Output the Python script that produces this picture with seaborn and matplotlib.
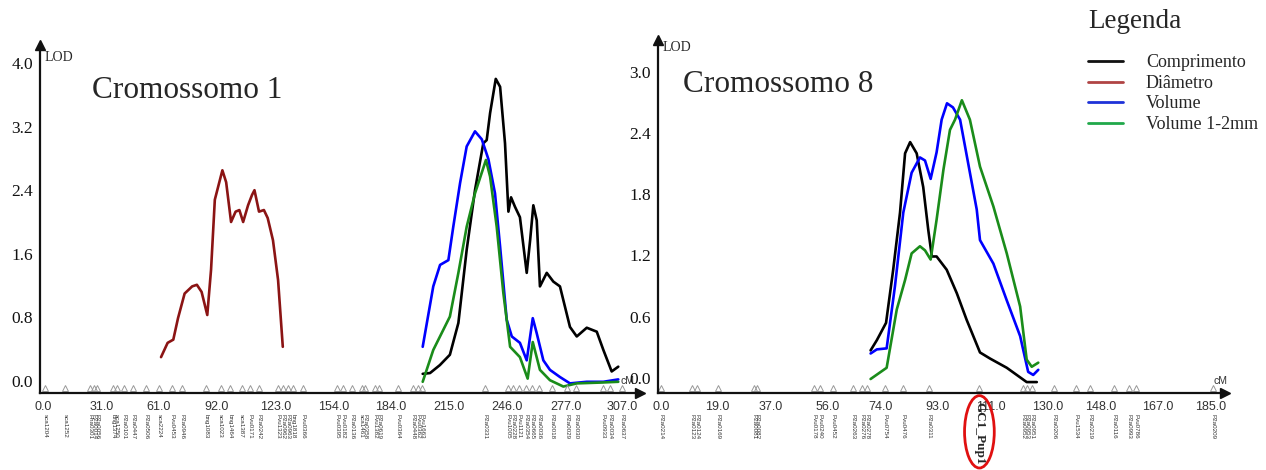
import numpy as np
import pandas as pd
import matplotlib
matplotlib.use("Agg")
import matplotlib.pyplot as plt
from matplotlib.lines import Line2D
from matplotlib.patches import Ellipse
import seaborn as sns

# ---- data: chromosome 1 (cM, LOD) ----
c1_comp_cm = [201.1, 205, 210.2, 215.5, 220, 224.4, 228.8, 233.2, 235, 236.8, 239.8, 242.1, 244.7, 246.5,
              247.9, 250, 252.6, 256.2, 258, 259.7, 261.5, 263.2, 266.8, 270.3, 273.8, 279.1, 282.7, 288,
              293.3, 296.8, 301.2, 304.7]
c1_comp_lod = [0.09, 0.10, 0.20, 0.33, 0.73, 1.65, 2.40, 2.99, 3.03, 3.37, 3.80, 3.70, 2.99, 2.13,
               2.31, 2.19, 2.06, 1.36, 1.77, 2.21, 2.02, 1.19, 1.36, 1.25, 1.19, 0.68, 0.56, 0.67,
               0.62, 0.39, 0.12, 0.18]
c1_diam_cm = [62.5, 66, 69, 71.5, 75, 79, 81.5, 84, 87, 89, 91, 95, 97, 99.6, 102, 104, 106, 108.6,
              110.7, 112, 114.4, 117, 119, 121.8, 124.5, 127]
c1_diam_lod = [0.30, 0.48, 0.52, 0.79, 1.10, 1.19, 1.21, 1.12, 0.83, 1.40, 2.28, 2.65, 2.50, 2.00,
               2.13, 2.15, 2.00, 2.21, 2.34, 2.40, 2.13, 2.15, 2.05, 1.77, 1.27, 0.43]
c1_vol_cm = [201.1, 206.7, 210.3, 214.7, 217.3, 220.9, 224.4, 228.8, 232.4, 235.9, 239.4, 242.1, 245.6,
             248.3, 252.6, 256.2, 259.4, 261.5, 265, 268.5, 273.8, 279.1, 288, 296.8, 304.7]
c1_vol_lod = [0.43, 1.19, 1.46, 1.52, 1.94, 2.49, 2.95, 3.14, 3.04, 2.79, 2.36, 1.69, 0.77,
              0.56, 0.48, 0.26, 0.79, 0.60, 0.26, 0.14, 0.05, -0.03, -0.01, -0.01, 0.02]
c1_vol12_cm = [201.1, 206.7, 215.5, 220, 224.4, 228.8, 234.6, 236.8, 240.3, 243.8, 247.4, 252.6, 256.7,
               259.4, 263.2, 268.5, 275.6, 282.7, 295, 304.7]
c1_vol12_lod = [-0.01, 0.39, 0.81, 1.36, 1.94, 2.36, 2.78, 2.57, 1.94, 1.11, 0.43, 0.30, 0.03,
                0.49, 0.14, 0.01, -0.07, -0.03, -0.02, -0.01]

# ---- data: chromosome 8 ----
c8_comp_cm = [70.5, 72.6, 75.7, 78.1, 80.4, 82.1, 83.8, 86, 88.2, 89.9, 91.1, 92.7, 96.1, 99.5, 102.8,
              107.3, 110.7, 116.3, 123, 126.4]
c8_comp_lod = [0.27, 0.37, 0.54, 1.06, 1.62, 2.20, 2.31, 2.20, 1.87, 1.45, 1.19, 1.19, 1.06, 0.83, 0.57,
               0.25, 0.19, 0.10, -0.04, -0.04]
c8_vol_cm = [70.5, 72.6, 75.9, 78.7, 81.5, 84.3, 87.1, 88.8, 90.7, 92.7, 94.4, 96.2, 98.2, 100.6, 106.2,
             107.3, 111.8, 116.3, 120.8, 123.5, 125.2, 126.9]
c8_vol_lod = [0.24, 0.28, 0.29, 0.90, 1.62, 2.01, 2.16, 2.13, 1.95, 2.21, 2.53, 2.69, 2.65, 2.53, 1.65,
              1.35, 1.12, 0.76, 0.41, 0.06, 0.03, 0.08]
c8_vol12_cm = [70.5, 75.9, 79.3, 82.1, 84.3, 87.1, 88.8, 90.7, 92.7, 95, 97.2, 98.9, 101.2, 103.9, 107.3,
               111.8, 116.3, 120.8, 123, 124.7, 126.9]
c8_vol12_lod = [-0.01, 0.10, 0.67, 0.96, 1.22, 1.29, 1.25, 1.16, 1.55, 2.04, 2.43, 2.53, 2.72, 2.53, 2.07,
                1.68, 1.22, 0.70, 0.18, 0.11, 0.15]

# ---- axis ticks ----
c1_xticks = [0, 31, 61, 92, 123, 154, 184, 215, 246, 277, 307]
c1_yticks = [0.0, 0.8, 1.6, 2.4, 3.2, 4.0]
c8_xticks = [0, 19, 37, 56, 74, 93, 111, 130, 148, 167, 185]
c8_yticks = [0.0, 0.6, 1.2, 1.8, 2.4, 3.0]

# ---- markers along the linkage maps ----
c1_markers_cm = [1, 11.6, 24.9, 27, 28.8, 37, 39, 42.9, 47.5, 54.6, 61.6, 68.2, 73.5, 86.3, 94.1, 99,
                 105.2, 109.6, 114.6, 124.6, 126.9, 129.9, 132.5, 137.8, 155.6, 159, 163.5, 168.8,
                 170.6, 175.8, 178.1, 188.2, 196.1, 198.7, 200.5, 234.1, 246.5, 249.1, 252.3, 255.8,
                 258.8, 262.9, 269.4, 277.4, 282.3, 296.4, 300.3, 306.5]
c1_markers = ["sca1204", "sca1252", "Pha0301", "P2a0014", "P2a0056", "bng1374", "sca1250", "P2a0101",
              "P2a0447", "P2a0506", "sca2224", "Pvu0453", "P2a0946", "bng1083", "sca1023", "bng1464",
              "sca1387", "Pvu0171", "P2a0242", "Pvu1323", "P2a0962", "P2a0963", "bng1818", "Pvu0366",
              "Pvu0395", "Pvu0182", "P2a0136", "sca1461", "P2a0358", "Pvu1382", "P2a0619", "Pvu0364",
              "P2a0448", "Pvu0362", "Pvu1663", "P2a0331", "Pvu1005", "P2a0228", "Pvu1121", "P2a0354",
              "P2a0665", "P2a0036", "P2a0018", "P2a0029", "P2a0030", "Pvu0933", "P2a0034", "P2a0637"]
c8_markers_cm = [0, 10.3, 12.2, 19.3, 31.3, 32.4, 51.5, 53.5, 58, 64.7, 67.5, 69.4, 75.3, 81.5, 90.3,
                 107.1, 121.9, 123.2, 124.7, 132.2, 139.6, 144.3, 152.4, 157.5, 159.8, 185.8]
c8_markers = ["P2a0214", "P2a0123", "P2a0124", "P2a0169", "P2a0081", "P2a0082", "Pvu0178", "Pvu0240",
              "Pvu0452", "P2a0263", "P2a0276", "P2a0278", "Pvu0754", "Pvu0476", "P2a0311", "GC1_Pup1",
              "P2a0952", "P2a0953", "P2a0951", "P2a0206", "Pvu1534", "P2a0219", "P2a0116", "P2a0993",
              "Pvu0786", "P2a0209"]

series_names = ["Comprimento", "Diâmetro", "Volume", "Volume 1-2mm"]
line_colors = {"Comprimento": "#000000", "Diâmetro": "#8B1414", "Volume": "#0000FF", "Volume 1-2mm": "#1A8C1A"}
legend_colors = ["#111111", "#B04444", "#1E32D8", "#20A84A"]


def long_frame(parts):
    frames = []
    for name, cm, lod in parts:
        frames.append(pd.DataFrame({"cM": cm, "LOD": lod, "trait": name}))
    return pd.concat(frames, ignore_index=True)


c1 = long_frame([("Comprimento", c1_comp_cm, c1_comp_lod), ("Diâmetro", c1_diam_cm, c1_diam_lod),
                 ("Volume", c1_vol_cm, c1_vol_lod), ("Volume 1-2mm", c1_vol12_cm, c1_vol12_lod)])
c8 = long_frame([("Comprimento", c8_comp_cm, c8_comp_lod), ("Volume", c8_vol_cm, c8_vol_lod),
                 ("Volume 1-2mm", c8_vol12_cm, c8_vol12_lod)])

sns.set_theme(style="white")
plt.rcParams["font.family"] = ["Liberation Serif", "DejaVu Serif"]

fig = plt.figure(figsize=(12.66, 4.70), dpi=100)
ax1 = fig.add_axes([40 / 1266, 77 / 470, 600 / 1266, 348 / 470])
ax2 = fig.add_axes([658 / 1266, 77 / 470, 567 / 1266, 353 / 470])

panels = [
    (ax1, c1, c1_xticks, c1_yticks, (-1.6, 316.2), (-0.151, 4.226), c1_markers_cm, c1_markers, "Cromossomo 1", 0.087, 0.87, 0.965, 0.967),
    (ax2, c8, c8_xticks, c8_yticks, (-1.0, 189.7), (-0.147, 3.31), c8_markers_cm, c8_markers, "Cromossomo 8", 0.044, 0.875, 0.98, 0.979),
]

for ax, df, xt, yt, xl, yl, mk_cm, mk_names, title, tx, ty, lody, cmx in panels:
    sns.lineplot(data=df, x="cM", y="LOD", hue="trait", palette=line_colors, estimator=None,
                 sort=False, linewidth=1.9, legend=False, ax=ax)
    ax.set_xlim(*xl)
    ax.set_ylim(*yl)
    ax.set_xticks(xt)
    ax.set_xticklabels([f"{v:.1f}" for v in xt], family="Liberation Sans", fontsize=9, color="#333333")
    ax.set_yticks(yt)
    ax.set_yticklabels([f"{v:.1f}" for v in yt], fontsize=12.5, color="#111111")
    ax.set_xlabel("")
    ax.set_ylabel("")
    for s in ["top", "right"]:
        ax.spines[s].set_visible(False)
    for s in ["left", "bottom"]:
        ax.spines[s].set_color("#111111")
        ax.spines[s].set_linewidth(1.6)
    ax.tick_params(axis="both", direction="inout", length=8, width=1.5, color="#111111")
    ax.tick_params(axis="x", pad=2)
    ax.tick_params(axis="y", pad=1)
    ax.plot(1, 0, ">", color="#111111", ms=7, transform=ax.transAxes, clip_on=False)
    ax.plot(0, 1, "^", color="#111111", ms=7, transform=ax.transAxes, clip_on=False)
    ax.text(0.008, lody, "LOD", transform=ax.transAxes, ha="left", va="center", fontsize=10)
    ax.text(cmx, 0.02, "cM", transform=ax.transAxes, ha="left", va="bottom", fontsize=7.5,
            family="Liberation Sans", color="#333333")
    ax.text(tx, ty, title, transform=ax.transAxes, ha="left", va="center", fontsize=22.5)
    trans = ax.get_xaxis_transform()
    ax.plot(mk_cm, [0.013] * len(mk_cm), "^", mfc="none", mec="#999999", mew=0.7, ms=4,
            transform=trans, clip_on=False)
    for cm, name in zip(mk_cm, mk_names):
        if name == "GC1_Pup1":
            ax.text(cm, -0.025, name, transform=trans, rotation=270, ha="center", va="top",
                    fontsize=9.5, fontweight="bold")
            ax.add_patch(Ellipse((cm, -0.11), 10, 0.205, transform=trans, fill=False,
                                 edgecolor="#E01010", linewidth=2, clip_on=False))
        else:
            ax.text(cm, -0.06, name, transform=trans, rotation=270, ha="center", va="top",
                    fontsize=4.5, family="Liberation Sans", color="#333333")

fig.text(1088 / 1266, 1 - 22 / 470, "Legenda", ha="left", va="center", fontsize=19.5)
handles = [Line2D([0], [0], color=c, lw=2) for c in legend_colors]
leg = fig.legend(handles, series_names, loc="upper left", bbox_to_anchor=(1081 / 1266, 1 - 47 / 470),
                 frameon=False, fontsize=13, handlelength=1.9, handletextpad=1.3,
                 labelspacing=0.2, borderaxespad=0)

fig.savefig("out.png", dpi=100)
